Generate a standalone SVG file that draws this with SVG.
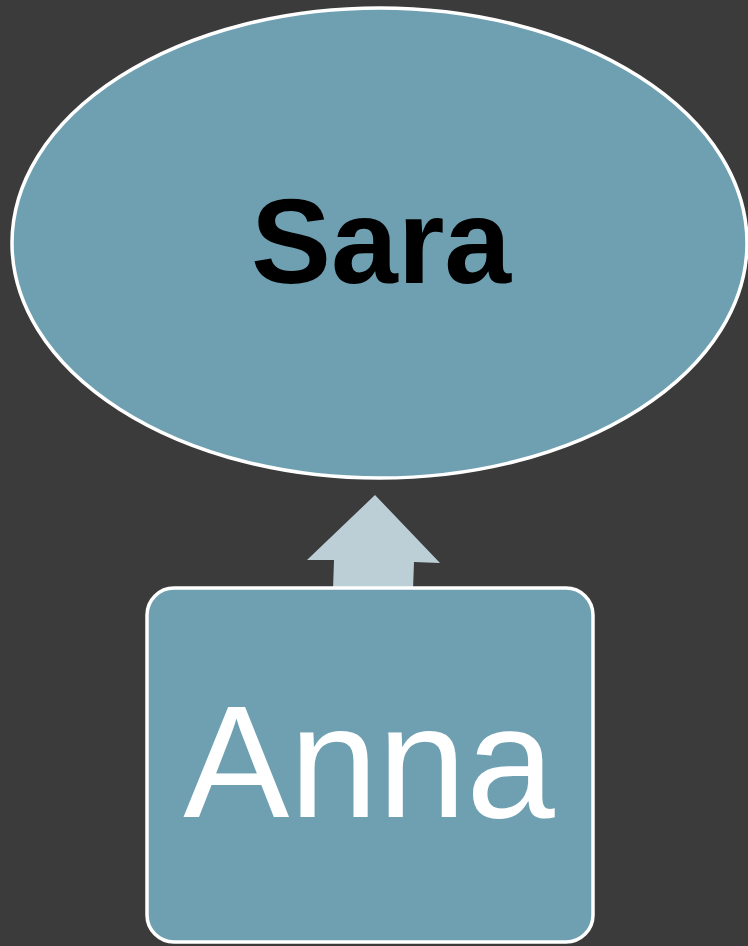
<svg xmlns="http://www.w3.org/2000/svg" width="748" height="946" viewBox="0 0 748 946">
<style>
.node{fill:#6fa0b1;stroke:#ffffff;stroke-width:3.5}
.arrow{fill:#bccfd7;stroke:none}
.t{font-family:"Liberation Sans",Arial,sans-serif;text-anchor:middle}
</style>
<rect x="0" y="0" width="748" height="946" fill="#3b3b3b"/>
<g id="connectors">
<polygon class="arrow" points="375,495 440,563 414,562 413,590 333,590 334,560 307,560"/>
</g>
<g id="sara">
<ellipse class="node" cx="379.5" cy="243" rx="367.5" ry="235"/>
<text class="t" x="381" y="283" font-size="120" font-weight="bold" fill="#000000">Sara</text>
</g>
<g id="anna">
<rect class="node" x="147" y="588" width="446" height="354" rx="27" ry="27"/>
<text class="t" x="369" y="817" font-size="159" fill="#ffffff">Anna</text>
</g>
</svg>
